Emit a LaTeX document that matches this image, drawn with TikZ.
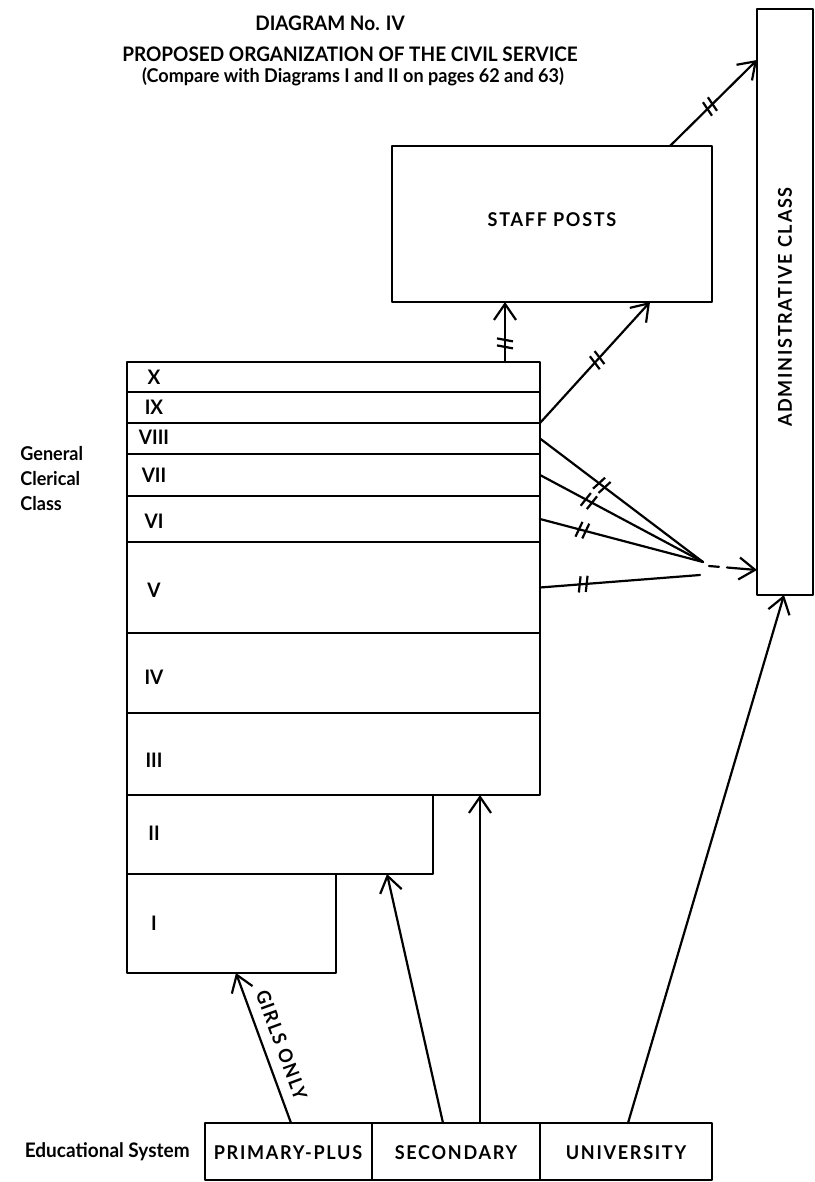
\documentclass[tikz,border=0pt]{standalone}
\usepackage{fontspec}
\setmainfont{Lato}[FakeStretch=0.95]
\newfontfamily\spacedcaps{Lato}[FakeStretch=0.95,LetterSpace=9]
\usetikzlibrary{arrows.meta,positioning,calc,fit,decorations.markings}
\tikzset{
    every picture/.style={line cap=round,line join=round},
    classbox/.style={draw=black,line width=1.2pt,inner sep=0pt,outer sep=0pt},
    gradecell/.style={classbox},
    gradelabel/.style={font=\fontsize{10}{11}\selectfont\bfseries,inner sep=0pt},
    boxlabel/.style={font=\spacedcaps\fontsize{9.5}{11}\selectfont\bfseries,inner sep=0pt},
    titlelabel/.style={font=\fontsize{10}{12}\selectfont\bfseries,inner sep=0pt},
    sidelabel/.style={font=\fontsize{9.5}{12.5}\selectfont\bfseries,align=left,inner sep=0pt},
    flowline/.style={draw=black,line width=1.1pt},
    flowarrow/.style={flowline,-{Straight Barb[length=8pt,width=11pt]}},
    barred/.style={postaction={decorate,decoration={markings,
        mark=at position #1 with {\draw[-,line width=1.1pt,line cap=butt]
          (-2.5pt,-4pt)--(-1pt,4pt) (1pt,-4pt)--(2.5pt,4pt);}}}}
}
\begin{document}
\begin{tikzpicture}[x=0.5pt,y=-0.5pt]
  \useasboundingbox (0,0) rectangle (814,1182);
  % heading
  \node[titlelabel] (title1) at (330,23) {DIAGRAM No. IV};
  \node[titlelabel] (title2) at (350,54) {PROPOSED ORGANIZATION OF THE CIVIL SERVICE};
  \node[titlelabel,font=\fontsize{9.5}{12}\selectfont\bfseries] (title3) at (353,77)
    {(Compare with Diagrams I and II on pages 62 and 63)};
  % upper classes
  \node[classbox,fit={(757,9)(813,595)}] (admin) {};
  \node[boxlabel,rotate=90] at (785,307) {ADMINISTRATIVE CLASS};
  \node[classbox,fit={(392,146)(712,302)}] (staff) {};
  \node[boxlabel] at (552,220) {STAFF POSTS};
  % grades of the general clerical class
  \node[gradecell,fit={(127,362)(540,392)}] (gX) {};
  \node[gradecell,fit={(127,392)(540,423)}] (gIX) {};
  \node[gradecell,fit={(127,423)(540,454)}] (gVIII) {};
  \node[gradecell,fit={(127,454)(540,496)}] (gVII) {};
  \node[gradecell,fit={(127,496)(540,542)}] (gVI) {};
  \node[gradecell,fit={(127,542)(540,633)}] (gV) {};
  \node[gradecell,fit={(127,633)(540,713)}] (gIV) {};
  \node[gradecell,fit={(127,713)(540,795)}] (gIII) {};
  \node[gradecell,fit={(127,795)(433,874)}] (gII) {};
  \node[gradecell,fit={(127,874)(336,973)}] (gI) {};
  \node[gradelabel] at (154,377) {X};
  \node[gradelabel] at (154,407) {IX};
  \node[gradelabel] at (154,437) {VIII};
  \node[gradelabel] at (154,475) {VII};
  \node[gradelabel] at (154,521) {VI};
  \node[gradelabel] at (154,590) {V};
  \node[gradelabel] at (154,677) {IV};
  \node[gradelabel] at (154,760) {III};
  \node[gradelabel] at (154,833) {II};
  \node[gradelabel] at (154,923) {I};
  \node[sidelabel,anchor=west] (clerical) at (20,479) {General\\Clerical\\Class};
  % educational system
  \node[classbox,fit={(205,1123)(372,1180)}] (prim) {};
  \node[classbox,fit={(372,1123)(540,1180)}] (sec) {};
  \node[classbox,fit={(540,1123)(712,1180)}] (univ) {};
  \node[boxlabel] at (288,1153) {PRIMARY-PLUS};
  \node[boxlabel] at (456,1153) {SECONDARY};
  \node[boxlabel] at (626,1153) {UNIVERSITY};
  \node[sidelabel,font=\fontsize{10}{12}\selectfont\bfseries,left=7.5pt of prim] (edu) {Educational System};
  % promotion lines
  \draw[flowarrow,barred=0.31] ([xshift=189pt]gX.north west) -- ([xshift=56.5pt]staff.south west);
  \draw[flowarrow,barred=0.52] (gVIII.north east) -- ([xshift=129pt]staff.south west);
  \draw[flowarrow,barred=0.46] ([xshift=139pt]staff.north west) -- ([yshift=-25.5pt]admin.north west);
  \coordinate (meet) at (703,562);
  \coordinate (meetlow) at (700,575);
  \coordinate (relay) at (709,566);
  \draw[flowline,barred=0.38] (gVIII.east) -- (meet);
  \draw[flowline,barred=0.30] (gVII.east) -- (meet);
  \draw[flowline,barred=0.26] (gVI.east) -- (meet);
  \draw[flowline,barred=0.27] (gV.east) -- (meetlow);
  \draw[flowarrow,dash pattern=on 5pt off 4pt on 30pt] (relay) -- ([yshift=-134pt]admin.west);
  % entry lines
  \draw[flowarrow] ([xshift=43pt]prim.north west) --
    node[boxlabel,pos=0.48,sloped,above=5pt] {GIRLS ONLY} ([xshift=54.5pt]gI.south west);
  \draw[flowarrow] ([xshift=35.5pt]sec.north west) -- ([xshift=130pt]gII.south west);
  \draw[flowarrow] ([xshift=54pt]sec.north west) -- ([xshift=176.5pt]gIII.south west);
  \draw[flowarrow] ([xshift=44pt]univ.north west) -- ([xshift=13.5pt]admin.south west);
\end{tikzpicture}
\end{document}
